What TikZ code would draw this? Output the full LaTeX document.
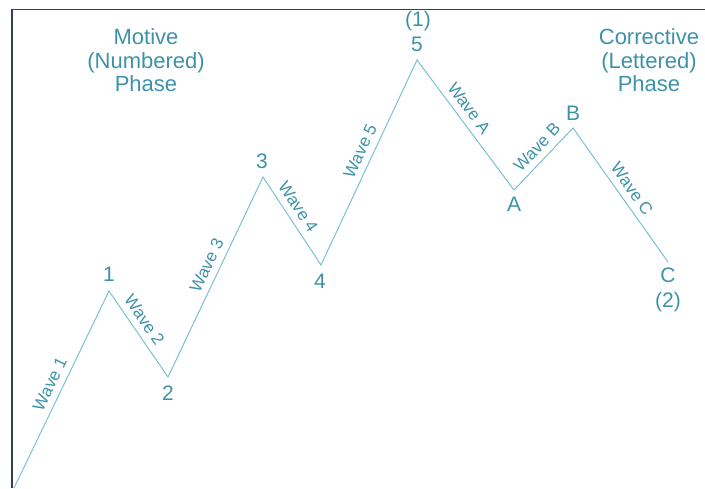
\documentclass[tikz,border=0pt]{standalone}
\usepackage{fontspec}
\setmainfont{Liberation Sans}
\definecolor{txt}{RGB}{62,146,168}
\definecolor{wline}{RGB}{125,192,207}
\definecolor{framec}{RGB}{52,64,82}
\begin{document}
\begin{tikzpicture}[x=1pt,y=-1pt,
  lbl/.style={text=txt, font=\fontsize{21}{23.5}\selectfont, inner sep=0pt},
  head/.style={text=txt, font=\fontsize{22}{23.5}\selectfont, align=center, inner sep=0pt},
  wavelbl/.style={text=txt, font=\fontsize{17}{19}\selectfont, sloped, anchor=south, inner xsep=1pt, inner ysep=6.5pt},
  wave/.style={draw=wline, line width=1pt, line join=miter},
  frameline/.style={draw=framec, line width=1.3pt}
]
\useasboundingbox (0,0) rectangle (705,488);
\draw[frameline] (12,488) -- (12,9.5) -- (705,9.5);

\coordinate (p0) at (14,488);
\coordinate (p1) at (109,291);
\coordinate (p2) at (168,377);
\coordinate (p3) at (263,177);
\coordinate (p4) at (321,265);
\coordinate (p5) at (417,60);
\coordinate (pA) at (514,190);
\coordinate (pB) at (573,128);
\coordinate (pC) at (668,262);

\draw[wave] (p0)
  -- node[wavelbl, pos=0.5] {Wave 1} (p1)
  -- node[wavelbl, pos=0.42] {Wave 2} (p2)
  -- node[wavelbl, pos=0.53] {Wave 3} (p3)
  -- node[wavelbl, pos=0.42] {Wave 4} (p4)
  -- node[wavelbl, pos=0.53] {Wave 5} (p5)
  -- node[wavelbl, pos=0.43] {Wave A} (pA)
  -- node[wavelbl, pos=0.55] {Wave B} (pB)
  -- node[wavelbl, pos=0.51] {Wave C} (pC);

\node[lbl] (n1) at (109,274.5) {1};
\node[lbl] (n2) at (168,393.5) {2};
\node[lbl] (n3) at (262,161.5) {3};
\node[lbl] (n4) at (320,281.5) {4};
\node[lbl] (n5) at (417,44) {5};
\node[lbl] (n5b) at (418,21.5) {(1)};
\node[lbl] (nA) at (514,204.5) {A};
\node[lbl] (nB) at (573,113.5) {B};
\node[lbl] (nC) at (668,275.5) {C};
\node[lbl] (nC2) at (668,302) {(2)};

\node[head] (motive) at (146,60.6) {Motive\\(Numbered)\\Phase};
\node[head] (corr) at (649,60.6) {Corrective\\(Lettered)\\Phase};
\end{tikzpicture}
\end{document}
